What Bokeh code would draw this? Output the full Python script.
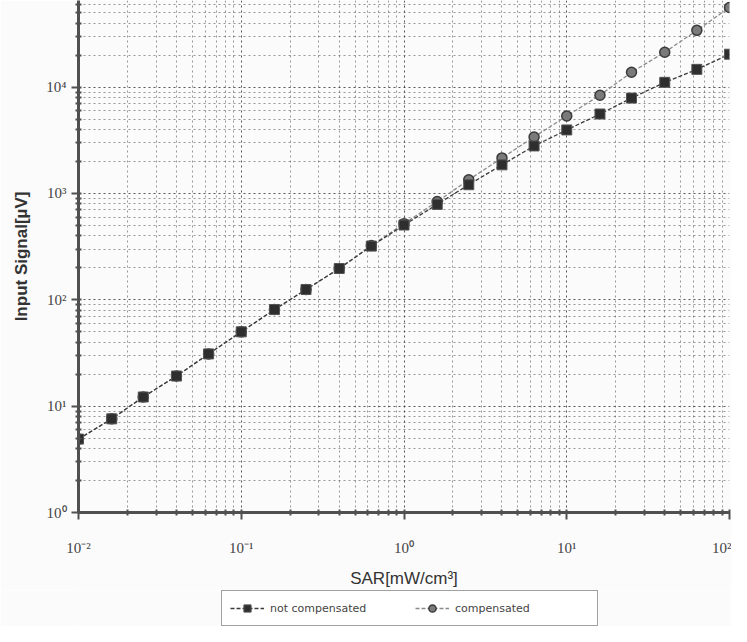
from bokeh.plotting import figure
from bokeh.layouts import column
from bokeh.models import (Range1d, FixedTicker, CustomJSTickFormatter, Legend,
                          LegendItem)
from bokeh.embed import file_html
from bokeh.resources import INLINE

# ---- data ----
sar = [0.01, 0.016, 0.025, 0.04, 0.063, 0.1, 0.16, 0.25, 0.4, 0.63,
       1.0, 1.6, 2.5, 4.0, 6.3, 10, 16, 25, 40, 63, 100]
compensated = [4.9, 7.6, 12.2, 19.2, 31, 50, 81, 125, 197, 324,
               520, 840, 1345, 2160, 3400, 5350, 8400, 13800, 21300, 34200, 56100]
not_compensated = [4.9, 7.6, 12.2, 19.2, 31, 50, 81, 125, 197, 320,
                   505, 790, 1210, 1860, 2800, 3960, 5590, 7890, 11100, 14700, 20400]

x_ticks = [0.01, 0.1, 1, 10, 100]
x_tick_labels = ["10\u207b\u00b2", "10\u207b\u00b9", "10\u2070", "10\u00b9", "10\u00b2"]
y_ticks = [1, 10, 100, 1000, 10000]
y_tick_labels = ["10\u2070", "10\u00b9", "10\u00b2", "10\u00b3", "10\u2074"]

x_title = "SAR[mW/cm\u00b3]"
y_title = "Input Signal[\u00b5V]"
series_names = ["not compensated", "compensated"]

BG = "#fbfbfb"

# ---- style of the two series ----
comp_line = dict(line_color="#8a8a8a", line_width=1.3, line_dash="4 2")
comp_mark = dict(marker="circle", fill_color="#7a7a7a", line_color="#3a3a3a", line_width=1.5)
nc_line = dict(line_color="#3a3a3a", line_width=1.3, line_dash="4 2")
nc_mark = dict(marker="square", fill_color="#2e2e2e", line_color="#555555", line_width=1)

# ---- main figure ----
p = figure(width=731, height=590, x_axis_type="log", y_axis_type="log",
           x_range=Range1d(0.01, 100), y_range=Range1d(1, 65300),
           output_backend="svg", toolbar_location=None,
           min_border_left=78, min_border_right=2, min_border_top=0,
           min_border_bottom=76)
p.background_fill_color = BG
p.border_fill_color = BG
p.outline_line_color = None


def minors(ticks):
    out = []
    for t in ticks:
        for m in range(2, 10):
            out.append(t * m)
    return out


x_minor = minors([0.001] + x_ticks)
y_minor = minors(y_ticks)
p.xaxis.ticker = FixedTicker(ticks=x_ticks, minor_ticks=x_minor)
p.yaxis.ticker = FixedTicker(ticks=y_ticks, minor_ticks=y_minor)

fmt_code = """
for (let i = 0; i < tv.length; i++) {
  if (Math.abs(Math.log10(tick) - Math.log10(tv[i])) < 1e-6) return tl[i];
}
return "";
"""
p.xaxis.formatter = CustomJSTickFormatter(args=dict(tv=x_ticks, tl=x_tick_labels), code=fmt_code)
p.yaxis.formatter = CustomJSTickFormatter(args=dict(tv=y_ticks, tl=y_tick_labels), code=fmt_code)

for ax in (p.xaxis, p.yaxis):
    ax.axis_line_color = "#505050"
    ax.axis_line_width = 3
    ax.major_tick_line_color = "#505050"
    ax.major_tick_line_width = 2
    ax.minor_tick_line_color = "#505050"
    ax.minor_tick_line_width = 2
    ax.major_tick_in = 3
    ax.major_tick_out = 7
    ax.minor_tick_in = 3
    ax.minor_tick_out = 3
    ax.major_label_text_font = "Liberation Serif"
    ax.major_label_text_font_size = "15px"
    ax.major_label_text_color = "#444444"

p.xaxis.major_label_standoff = 20
p.yaxis.major_label_standoff = 5

p.xaxis.axis_label = x_title
p.xaxis.axis_label_text_font = "Liberation Sans"
p.xaxis.axis_label_text_font_style = "normal"
p.xaxis.axis_label_text_font_size = "17px"
p.xaxis.axis_label_text_color = "#333333"
p.xaxis.axis_label_standoff = 10

p.yaxis.axis_label = y_title
p.yaxis.axis_label_text_font = "Liberation Sans"
p.yaxis.axis_label_text_font_style = "bold"
p.yaxis.axis_label_text_font_size = "17px"
p.yaxis.axis_label_text_color = "#333333"
p.yaxis.axis_label_standoff = 12

for g in (p.xgrid, p.ygrid):
    g.grid_line_color = "#222222"
    g.grid_line_alpha = 0.75
    g.grid_line_dash = "2 3"
    g.grid_line_width = 1
    g.minor_grid_line_color = "#333333"
    g.minor_grid_line_alpha = 0.5
    g.minor_grid_line_dash = "2 3"
    g.minor_grid_line_width = 1

p.line(sar, compensated, **comp_line)
p.scatter(sar, compensated, size=10, **comp_mark)
p.line(sar, not_compensated, **nc_line)
p.scatter(sar, not_compensated, size=10, **nc_mark)

# ---- legend strip below the chart (its renderers lie outside its view) ----
q = figure(width=731, height=36, x_range=Range1d(0, 1e-6), y_range=Range1d(0, 1e-6),
           output_backend="svg", toolbar_location=None,
           min_border_left=0, min_border_right=0, min_border_top=0,
           min_border_bottom=0, x_axis_location=None, y_axis_location=None)
q.background_fill_color = BG
q.border_fill_color = BG
q.outline_line_color = None
q.grid.visible = False

ql_n = q.line(sar, not_compensated, **nc_line)
qs_n = q.scatter(sar, not_compensated, size=10, **nc_mark)
ql_c = q.line(sar, compensated, **comp_line)
qs_c = q.scatter(sar, compensated, size=10, **comp_mark)

legend = Legend(items=[LegendItem(label=series_names[0], renderers=[ql_n, qs_n], index=0),
                       LegendItem(label=series_names[1], renderers=[ql_c, qs_c], index=0)],
                orientation="horizontal", location=(143, 0))
legend.margin = 0
legend.padding = 8
legend.spacing = 11
legend.glyph_width = 34
legend.glyph_height = 18
legend.label_height = 18
legend.label_standoff = 6
legend.label_width = 134
legend.label_text_font = "DejaVu Sans"
legend.label_text_font_size = "11px"
legend.label_text_color = "#444444"
legend.border_line_color = "#444444"
legend.border_line_width = 1
legend.background_fill_color = "#ffffff"
legend.background_fill_alpha = 1
q.add_layout(legend, "center")

layout = column(p, q, spacing=0)
open("out.html", "w").write(file_html(layout, INLINE))
